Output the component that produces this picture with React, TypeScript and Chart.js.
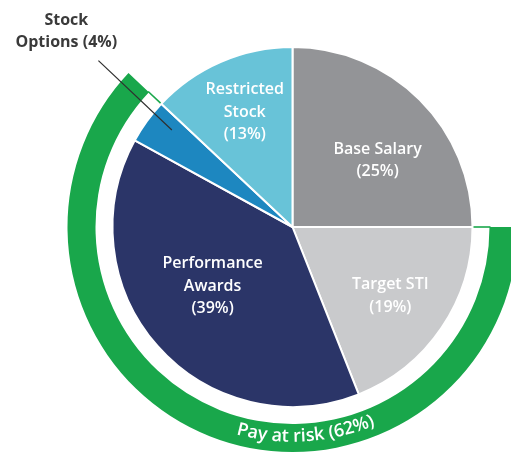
import React, { useEffect, useRef } from "react";
import { Chart, registerables } from "chart.js";

Chart.register(...registerables);

// ---- data ----
const categories = ["Base Salary", "Target STI", "Performance Awards", "Stock Options", "Restricted Stock"];
const shares = [25, 19, 39, 4, 13];
const atRisk = [false, true, true, true, false];
const sliceLabelLines = [
  ["Base Salary", "(25%)"],
  ["Target STI", "(19%)"],
  ["Performance", "Awards", "(39%)"],
  ["Stock", "Options (4%)"],
  ["Restricted", "Stock", "(13%)"],
];
const ringLabel = "Pay at risk (62%)";

// ---- style ----
const sliceColors = ["#939497", "#c9cacc", "#2b3568", "#1d87c0", "#68c3d8"];
const green = "#19a74b";
// label placement: [angle shift deg, radius factor]
const labelPlacement = [
  [7, 0.6],
  [1, 0.665],
  [4.8, 0.553],
  [0, 0],
  [0.8, 0.69],
];
const EXTERNAL = 3;

// group contiguous at-risk slices for the outer ring
function ringGroups() {
  const vals: number[] = [];
  const flags: boolean[] = [];
  shares.forEach((v, i) => {
    if (flags.length && flags[flags.length - 1] === atRisk[i]) vals[vals.length - 1] += v;
    else {
      vals.push(v);
      flags.push(atRisk[i]);
    }
  });
  return { vals, flags };
}

const overlay = {
  id: "overlay",
  afterDatasetsDraw(chart: any) {
    const ctx = chart.ctx as CanvasRenderingContext2D;
    const pieMeta = chart.getDatasetMeta(2);
    const ringMeta = chart.getDatasetMeta(0);
    const arcs = pieMeta.data;
    const p0 = arcs[0].getProps(["x", "y", "outerRadius"], true);
    const cx = p0.x, cy = p0.y, R = p0.outerRadius;
    const deg = Math.PI / 180;

    ctx.save();
    // slice labels
    ctx.font = "600 16px 'Open Sans'";
    ctx.fillStyle = "#ffffff";
    ctx.textAlign = "center";
    ctx.textBaseline = "middle";
    arcs.forEach((arc: any, i: number) => {
      if (i === EXTERNAL) return;
      const { startAngle, endAngle } = arc.getProps(["startAngle", "endAngle"], true);
      const mid = (startAngle + endAngle) / 2 + labelPlacement[i][0] * deg;
      const r = R * labelPlacement[i][1];
      const x = cx + r * Math.cos(mid);
      const y = cy + r * Math.sin(mid);
      const lines = sliceLabelLines[i];
      const lh = 22.5;
      lines.forEach((ln, k) => {
        ctx.fillText(ln, x, y + (k - (lines.length - 1) / 2) * lh);
      });
    });

    // external label with leader line
    {
      const arc = arcs[EXTERNAL];
      const { startAngle, endAngle } = arc.getProps(["startAngle", "endAngle"], true);
      const mid = (startAngle + endAngle) / 2;
      const pA = { a: mid + 2.8 * deg, r: R * 0.86 };
      const pB = { a: mid + 4.6 * deg, r: R * 1.42 };
      ctx.strokeStyle = "#2f2f2f";
      ctx.lineWidth = 1.2;
      ctx.beginPath();
      ctx.moveTo(cx + pA.r * Math.cos(pA.a), cy + pA.r * Math.sin(pA.a));
      ctx.lineTo(cx + pB.r * Math.cos(pB.a), cy + pB.r * Math.sin(pB.a));
      ctx.stroke();
      const la = mid + 5 * deg, lr = R * 1.665;
      const lx = cx + lr * Math.cos(la), ly = cy + lr * Math.sin(la) + 1;
      ctx.font = "bold 16px 'Open Sans'";
      ctx.fillStyle = "#3a3a3a";
      const lines = sliceLabelLines[EXTERNAL];
      lines.forEach((ln, k) => {
        ctx.fillText(ln, lx, ly + (k - (lines.length - 1) / 2) * 22);
      });
    }

    // ring end connectors + curved label
    const gIdx = ringMeta.data.findIndex((_: any, i: number) => ringGroups().flags[i]);
    const g = ringMeta.data[gIdx].getProps(["startAngle", "endAngle", "innerRadius", "outerRadius"], true);
    ctx.strokeStyle = green;
    ctx.lineWidth = 1.6;
    [g.startAngle, g.endAngle].forEach((a: number) => {
      ctx.beginPath();
      ctx.moveTo(cx + (R + 1) * Math.cos(a), cy + (R + 1) * Math.sin(a));
      ctx.lineTo(cx + (g.innerRadius + 1) * Math.cos(a), cy + (g.innerRadius + 1) * Math.sin(a));
      ctx.stroke();
    });

    ctx.font = "600 18px 'Open Sans'";
    ctx.fillStyle = "#ffffff";
    ctx.textAlign = "center";
    ctx.textBaseline = "alphabetic";
    const rb = g.innerRadius + 0.63 * (g.outerRadius - g.innerRadius);
    const centerA = (176.3 - 90) * deg;
    const total = ctx.measureText(ringLabel).width;
    let a = centerA + total / (2 * rb);
    for (const ch of ringLabel) {
      const w = ctx.measureText(ch).width;
      const ac = a - w / 2 / rb;
      ctx.save();
      ctx.translate(cx + rb * Math.cos(ac), cy + rb * Math.sin(ac));
      ctx.rotate(ac - Math.PI / 2);
      ctx.fillText(ch, 0, 0);
      ctx.restore();
      a -= w / rb;
    }
    ctx.restore();
  },
};

export default function App() {
  const ref = useRef<HTMLCanvasElement>(null);
  useEffect(() => {
    if (!ref.current) return;
    const { vals, flags } = ringGroups();
    const chart = new Chart(ref.current, {
      type: "pie",
      data: {
        labels: categories,
        datasets: [
          {
            data: vals,
            backgroundColor: flags.map((f) => (f ? green : "rgba(0,0,0,0)")),
            borderWidth: 0,
            weight: 28,
          } as any,
          {
            data: [1],
            backgroundColor: ["rgba(0,0,0,0)"],
            borderWidth: 0,
            weight: 17,
          } as any,
          {
            data: shares,
            backgroundColor: sliceColors,
            borderColor: "#ffffff",
            borderWidth: 2,
            weight: 180,
          } as any,
        ],
      },
      options: {
        animation: false,
        responsive: false,
        radius: 225,
        events: [],
        layout: { padding: 0 },
        plugins: { legend: { display: false }, tooltip: { enabled: false } },
      } as any,
      plugins: [overlay],
    });
    return () => chart.destroy();
  }, []);
  return (
    <div
      style={{
        position: "fixed",
        left: 0,
        top: 0,
        width: 511,
        height: 452,
        overflow: "hidden",
        background: "#ffffff",
      }}
    >
      <canvas
        ref={ref}
        width={585}
        height={454}
        style={{ position: "absolute", left: 0, top: 0, width: 585, height: 454 }}
      />
    </div>
  );
}
